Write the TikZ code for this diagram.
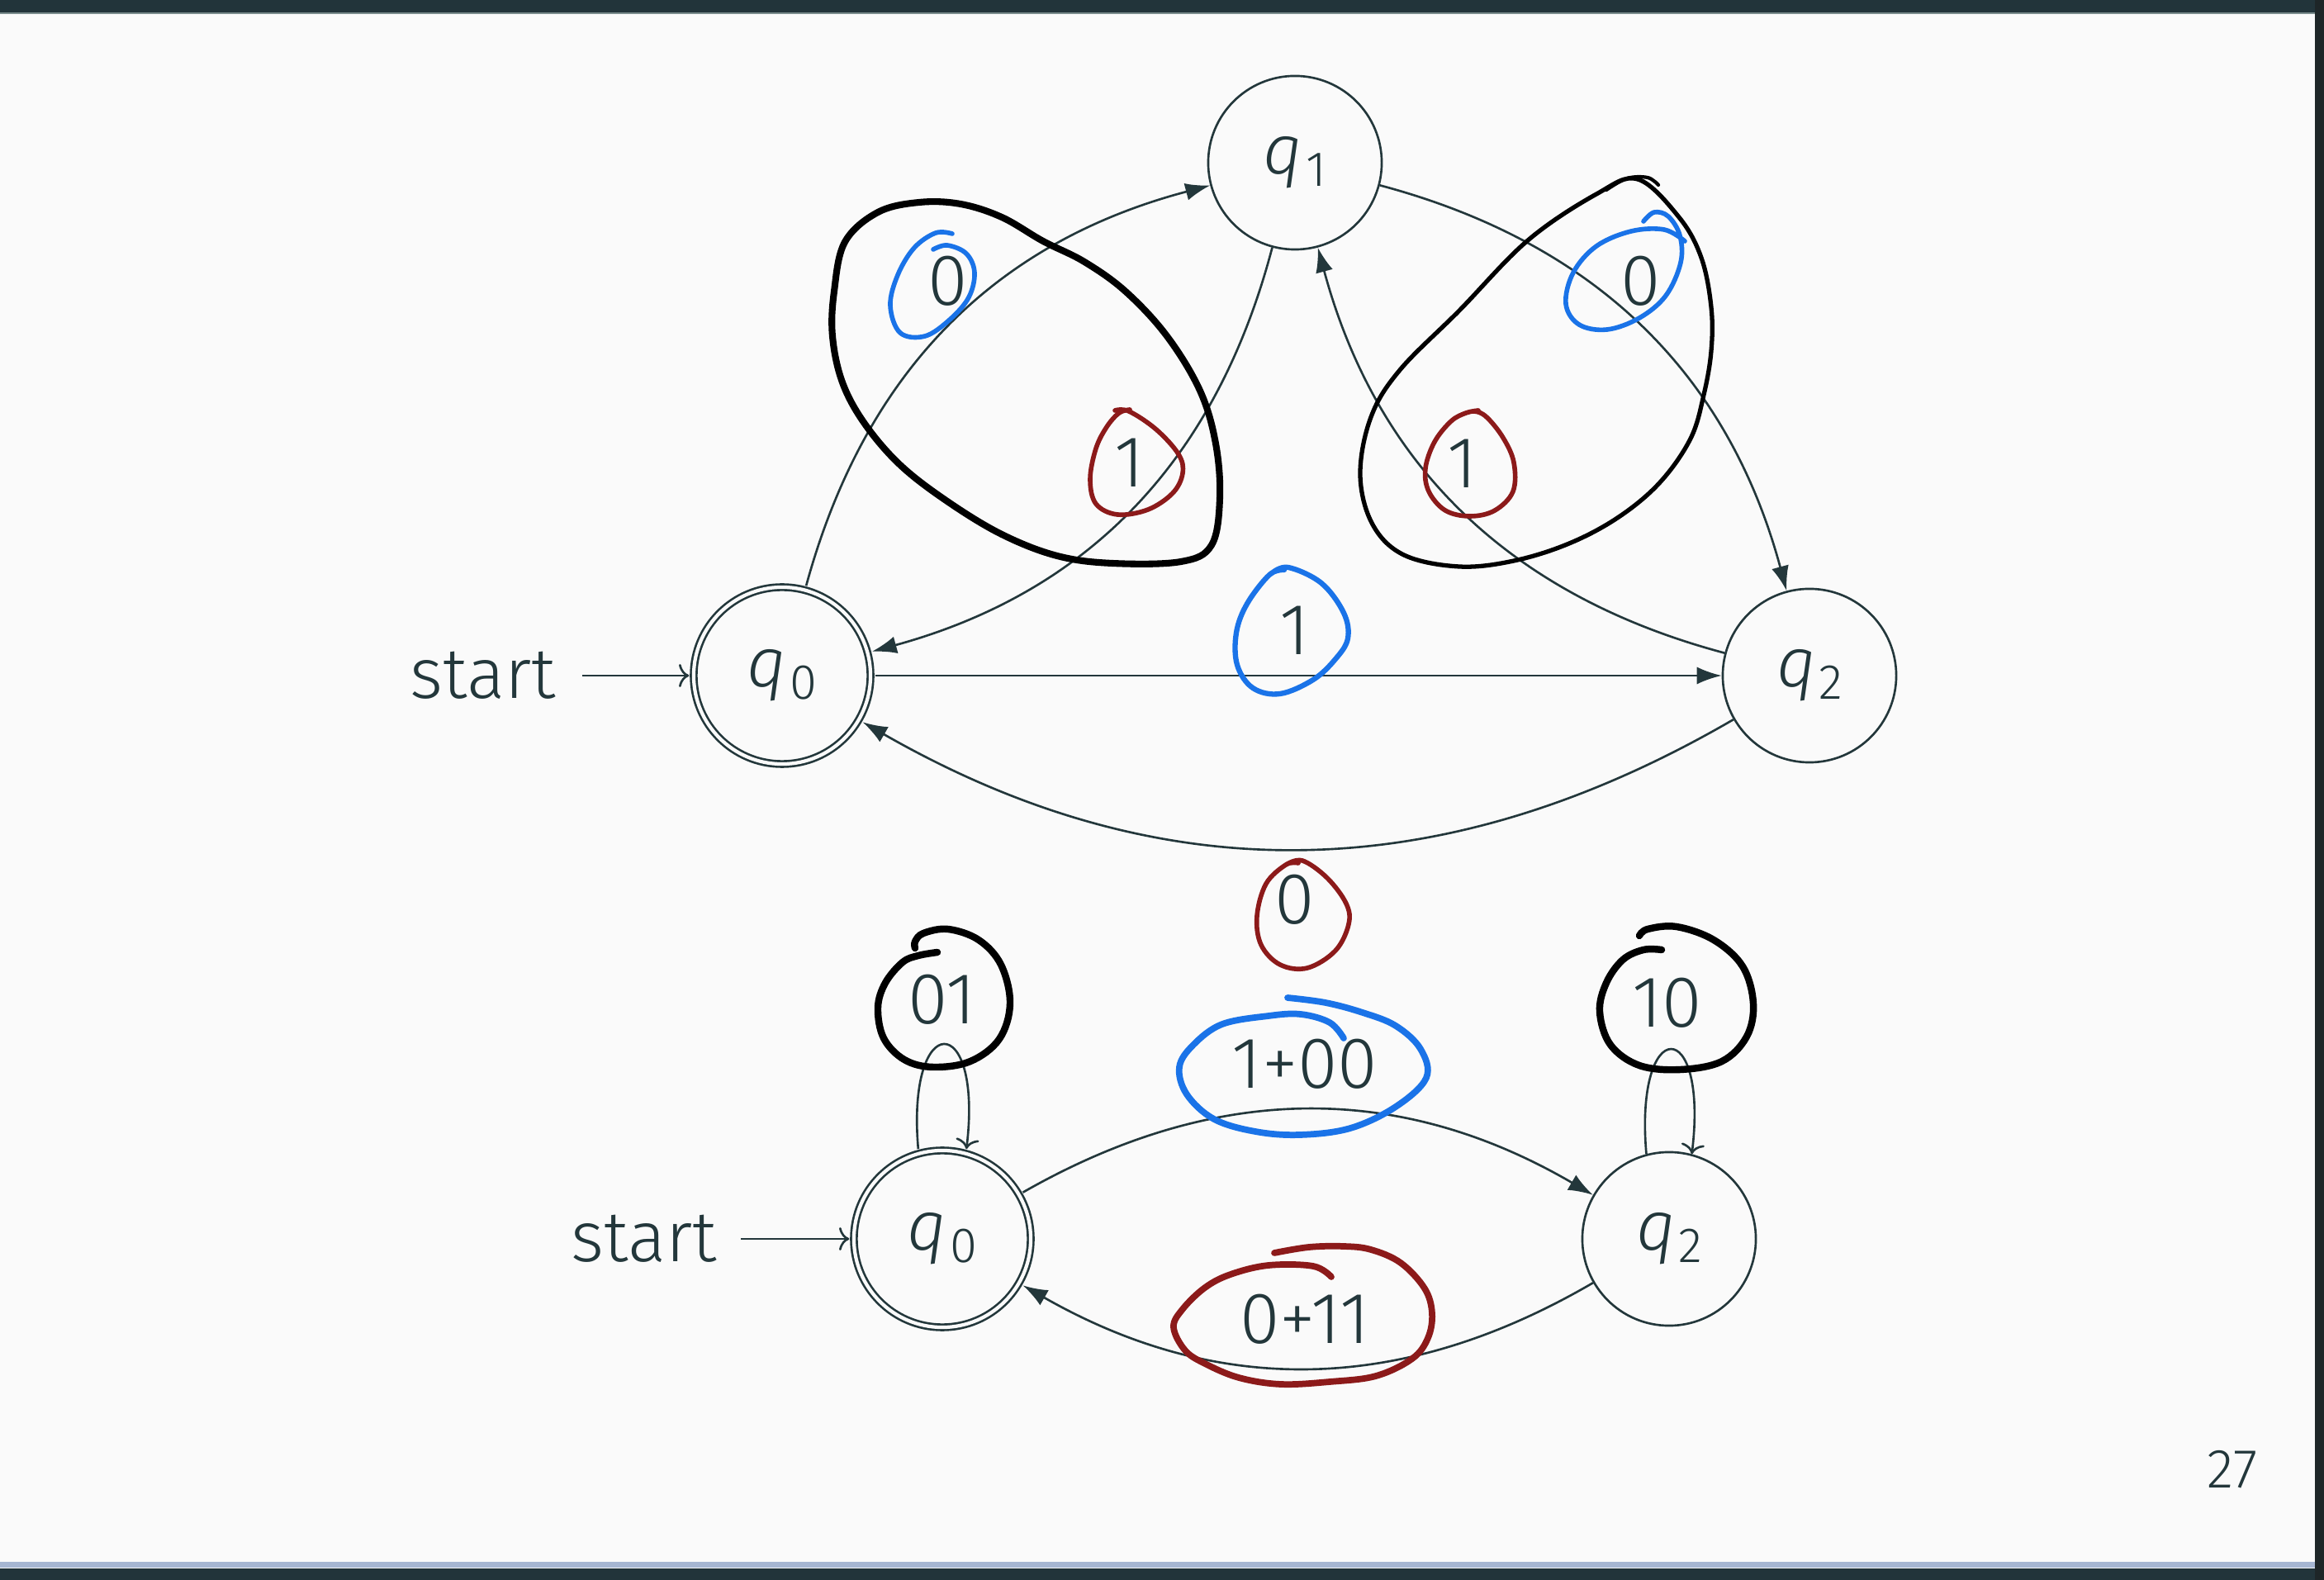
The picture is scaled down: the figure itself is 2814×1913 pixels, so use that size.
\documentclass[tikz,border=0pt]{standalone}
\usepackage{fontspec}
\setmainfont{Fira Sans Light}[ItalicFont={Fira Sans Light Italic}]
\usetikzlibrary{arrows.meta}
\definecolor{mdark}{HTML}{23373B}
\definecolor{bgc}{HTML}{FAFAFA}
\definecolor{hblue}{HTML}{1A73E8}
\definecolor{hred}{HTML}{8C1A1A}
\definecolor{barc}{HTML}{22343A}
\definecolor{bargrey}{HTML}{7A8C8C}
\definecolor{bandc}{HTML}{A6B6D2}
\definecolor{stripc}{HTML}{1E2628}
\newcommand\qst[1]{\textit{q}\kern1pt\raisebox{-0.17em}{\fontsize{17}{17}\selectfont #1}}
\begin{document}
\begin{tikzpicture}[x=0.01cm,y=-0.01cm,
  state/.style={circle, draw=mdark, line width=0.75pt, minimum size=2.1cm, inner sep=0pt, text=mdark, font=\fontsize{24}{28}\selectfont},
  accept/.style={state, minimum size=2.14cm, double=bgc, double distance=1.2pt, outer sep=1.6pt},
  lab/.style={text=mdark, font=\fontsize{25}{30}\selectfont, inner sep=0pt},
  startlab/.style={text=mdark, font=\fontsize{24.5}{30}\selectfont, inner ysep=0pt},
  edge/.style={draw=mdark, line width=0.75pt, -{Latex[length=8.5pt,width=6pt]}},
  initedge/.style={draw=mdark, line width=0.75pt, -{To[length=3.5pt,width=8pt]}},
  ink/.style={line cap=round, line join=round},
  inkblue/.style={ink, draw=hblue, line width=1.6pt},
  inkred/.style={ink, draw=hred, line width=1.6pt},
  inkblack/.style={ink, draw=black, line width=2pt}]
\useasboundingbox (0,0) rectangle (2814,1913);
% page background and frame
\fill[bgc] (0,0) rectangle (2814,1913);
\fill[barc] (0,0) rectangle (2814,15);
\fill[bargrey] (0,15) rectangle (2814,17);
\fill[bandc] (0,1891) rectangle (2814,1898);
\fill[barc] (0,1899) rectangle (2814,1913);
\fill[stripc] (2803,0) rectangle (2814,1913);

% ---------- upper automaton ----------
\node[accept] (q0) at (947,818) {\qst{0}};
\node[state] (q1) at (1568,197) {\qst{1}};
\node[state] (q2) at (2191,818) {\qst{2}};
\node[startlab, inner xsep=9pt, anchor=east] (s0) at (705,818) {start};

\draw[initedge] (s0) -- (q0);
\draw[edge] (q0) to[bend left=30] (q1);
\draw[edge] (q1) to[bend left=30] (q0);
\draw[edge] (q1) to[bend left=30] (q2);
\draw[edge] (q2) to[bend left=30] (q1);
\draw[edge] (q0) -- (q2);
\draw[edge] (q2) to[bend left=30] (q0);

\node[lab] (la) at (1148,340) {0};
\node[lab] (lb) at (1368,560) {1};
\node[lab] (lc) at (1987,340) {0};
\node[lab] (ld) at (1771,561) {1};
\node[lab] (le) at (1568,763) {1};
\node[lab] (lf) at (1568,1089) {0};

% ---------- lower automaton ----------
\node[accept] (b0) at (1141,1500) {\qst{0}};
\node[state] (b2) at (2021,1500) {\qst{2}};
\node[startlab, inner xsep=8pt, anchor=east] (s1) at (897,1500) {start};

\draw[initedge] (s1) -- (b0);
\draw[edge] (b0) to[bend left=30] (b2);
\draw[edge] (b2) to[bend left=30] (b0);
\draw[initedge] (b0.105) .. controls +(95:1.7cm) and +(83:1.7cm) .. (b0.75);
\draw[initedge] (b2.105) .. controls +(95:1.7cm) and +(83:1.7cm) .. (b2.75);

\node[lab] (lg) at (1141,1210) {01};
\node[lab] (lh) at (2019,1214) {10};
\node[lab] (li) at (1580,1288) {1+00};
\node[lab] (lj) at (1580,1597) {0+11};

\node[text=mdark, font=\fontsize{19}{22}\selectfont, inner sep=0pt] (pg) at (2703,1779) {27};

% ---------- hand-drawn ink ----------
\draw[inkblack, line width=2.3pt] plot[smooth cycle, tension=0.6] coordinates {
 (1113,245) (1163,247) (1213,263) (1263,292) (1313,317) (1363,353) (1413,407) (1453,473) (1472,537) (1477,603) (1467,660) (1430,680) (1347,682) (1280,673) (1213,647) (1147,607) (1090,563) (1047,513) (1020,463) (1008,407) (1010,353) (1023,293) (1063,257)};
\draw[inkblack, line width=1.5pt] plot[smooth cycle, tension=0.6] coordinates {
 (1983,217) (2033,263) (2060,312) (2072,372) (2072,425) (2063,478) (2047,531) (2010,584) (1960,626) (1900,658) (1833,679) (1767,686) (1700,672) (1662,635) (1647,575) (1660,505) (1695,448) (1767,376) (1850,291) (1933,235)};
\draw[inkblack, line width=1.2pt] plot[smooth, tension=0.6] coordinates {(1945,230) (1970,216) (1995,215) (2008,224)};

\draw[inkblue] plot[smooth, tension=0.6] coordinates {
 (1153,283) (1133,282) (1107,300) (1087,333) (1078,370) (1090,403) (1120,407) (1150,387) (1173,360) (1180,330) (1170,307) (1147,297) (1130,302)};
\draw[inkblue] plot[smooth, tension=0.6] coordinates {
 (1990,268) (2003,257) (2020,262) (2034,285) (2035,318) (2017,358) (1985,385) (1946,399) (1912,393) (1896,368) (1905,330) (1933,298) (1975,280) (2015,278) (2040,292)};
\draw[inkblue, line width=1.8pt] plot[smooth, tension=0.6] coordinates {
 (1540,694) (1560,687) (1600,706) (1627,742) (1632,773) (1617,798) (1590,823) (1550,840) (1517,833) (1498,805) (1497,766) (1510,731) (1537,696) (1555,690)};
\draw[inkblue, line width=2.2pt] plot[smooth, tension=0.6] coordinates {
 (1627,1257) (1610,1238) (1575,1228) (1536,1230) (1480,1240) (1445,1265) (1428,1292) (1437,1325) (1470,1355) (1520,1370) (1574,1374) (1635,1366) (1690,1340) (1727,1305) (1720,1270) (1690,1242) (1650,1226) (1605,1214) (1559,1208)};

\draw[inkred] plot[smooth, tension=0.6] coordinates {
 (1350,497) (1367,498) (1400,520) (1427,550) (1432,573) (1420,597) (1390,617) (1353,623) (1327,610) (1320,580) (1327,543) (1340,517) (1355,500) (1368,496)};
\draw[inkred] plot[smooth, tension=0.6] coordinates {
 (1770,502) (1785,498) (1800,505) (1820,530) (1833,560) (1832,595) (1810,618) (1780,625) (1750,618) (1730,595) (1726,567) (1737,535) (1757,510) (1775,500) (1790,497)};
\draw[inkred] plot[smooth, tension=0.6] coordinates {
 (1557,1047) (1577,1042) (1607,1063) (1630,1094) (1633,1119) (1617,1151) (1583,1172) (1550,1168) (1527,1144) (1522,1109) (1533,1070) (1557,1047) (1572,1045)};
\draw[inkred, line width=2.2pt] plot[smooth, tension=0.6] coordinates {
 (1612,1546) (1590,1533) (1536,1532) (1490,1543) (1459,1559) (1432,1585) (1421,1607) (1435,1635) (1459,1651) (1500,1668) (1551,1676) (1610,1673) (1666,1666) (1710,1645) (1729,1620) (1734,1590) (1725,1560) (1696,1529) (1660,1513) (1627,1509) (1585,1510) (1543,1517)};

\draw[inkblack, line width=2.4pt] plot[smooth, tension=0.6] coordinates {
 (1135,1153) (1112,1157) (1093,1165) (1072,1190) (1063,1220) (1070,1257) (1095,1283) (1130,1292) (1175,1285) (1210,1258) (1223,1215) (1212,1168) (1185,1138) (1148,1125) (1118,1130) (1108,1140) (1108,1148)};
\draw[inkblack, line width=2.4pt] plot[smooth, tension=0.6] coordinates {
 (2012,1150) (1990,1150) (1965,1162) (1945,1190) (1937,1225) (1950,1265) (1985,1290) (2035,1295) (2085,1285) (2115,1255) (2123,1215) (2110,1170) (2075,1138) (2030,1122) (1995,1125) (1985,1133)};
\end{tikzpicture}
\end{document}
